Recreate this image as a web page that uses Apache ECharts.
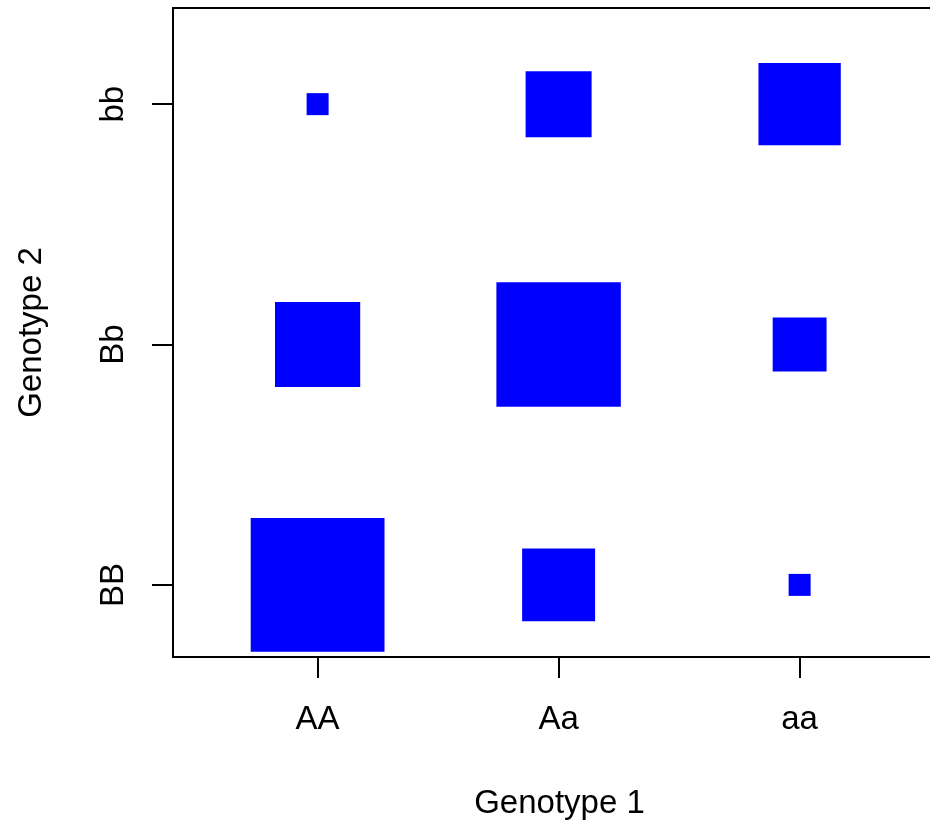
<!DOCTYPE html>
<html>
<head>
<meta charset="utf-8">
<script src="https://cdn.jsdelivr.net/npm/echarts@6/dist/echarts.min.js"></script>
<style>html,body{margin:0;padding:0;background:#fff}#c{width:930px;height:823px}</style>
</head>
<body>
<div id="c"></div>
<script>
const genotype1 = ['AA', 'Aa', 'aa'];
const genotype2 = ['BB', 'Bb', 'bb'];
// counts per genotype-2 row, across genotype-1 columns
const countsBB = [37, 11, 1];
const countsBb = [15, 32, 6];
const countsbb = [1, 9, 14];

const rows = [countsBB, countsBb, countsbb];
const data = [];
rows.forEach((r, j) => r.forEach((n, i) => data.push([i + 1, j + 1, n])));

const FONT = 'Liberation Sans, Arial, sans-serif';
const FS = 33;
const LINE = {color: '#000', width: 2};
const chart = echarts.init(document.getElementById('c'), null, {renderer: 'canvas'});
chart.setOption({
  animation: false,
  backgroundColor: '#fff',
  grid: {left: 173, top: 8, right: 0, bottom: 166, show: false, containLabel: false, outerBoundsMode: 'none'},
  xAxis: [{
    type: 'value', min: 0.4, max: 3.541, position: 'bottom',
    name: 'Genotype 1', nameLocation: 'middle', nameGap: 130,
    nameTextStyle: {fontFamily: FONT, fontSize: FS, color: '#000', padding: [0, 0, 0, 16]},
    axisLine: {show: true, onZero: false, lineStyle: LINE},
    splitLine: {show: false},
    axisTick: {show: true, customValues: [1, 2, 3], length: 21, lineStyle: LINE},
    axisLabel: {customValues: [1, 2, 3], formatter: v => genotype1[Math.round(v) - 1], margin: 46, fontFamily: FONT, fontSize: FS, color: '#000'}
  }, {
    type: 'value', min: 0.4, max: 3.541, position: 'top',
    axisLine: {show: true, onZero: false, lineStyle: LINE},
    splitLine: {show: false}, axisTick: {show: false}, axisLabel: {show: false}
  }],
  yAxis: {
    type: 'value', min: 0.7, max: 3.4,
    name: 'Genotype 2', nameLocation: 'middle', nameGap: 125, nameRotate: 90,
    nameTextStyle: {fontFamily: FONT, fontSize: FS, color: '#000'},
    axisLine: {show: true, onZero: false, lineStyle: LINE},
    splitLine: {show: false},
    axisTick: {show: true, customValues: [1, 2, 3], length: 21, lineStyle: LINE},
    axisLabel: {customValues: [1, 2, 3], formatter: v => genotype2[Math.round(v) - 1], rotate: 90, margin: 43, fontFamily: FONT, fontSize: FS, color: '#000'}
  },
  series: [{
    type: 'scatter',
    xAxisIndex: 0,
    symbol: 'rect',
    symbolSize: v => Math.sqrt(v[2]) * 22,
    itemStyle: {color: '#0000FF', opacity: 1},
    data: data
  }]
});
</script>
</body>
</html>
